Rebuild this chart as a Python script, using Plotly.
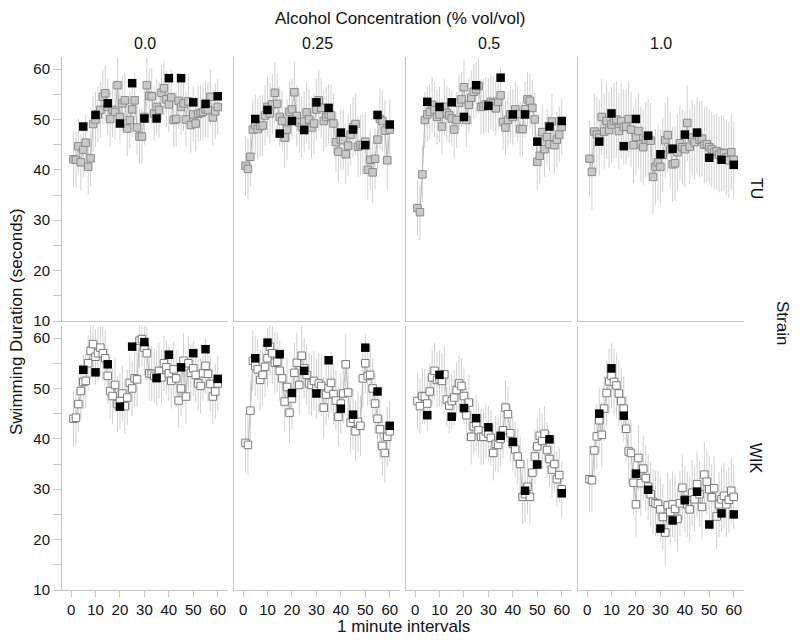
import plotly.graph_objects as go

# ---------------- data ----------------
minutes = list(range(1, 61))
block_minutes = [5, 10, 15, 20, 25, 30, 35, 40, 45, 50, 55, 60]
concentrations = ["0.0", "0.25", "0.5", "1.0"]
strains = ["TU", "WIK"]
x_ticks = [0, 10, 20, 30, 40, 50, 60]
y_ticks = [10, 15, 20, 25, 30, 35, 40, 45, 50, 55, 60]

TU_00 = [42.1, 42.0, 44.7, 41.5, 44.0, 45.4, 40.6, 42.3, 49.1, 50.0, 51.0, 51.9, 54.5, 55.2, 52.5,
         50.1, 51.9, 51.5, 56.8, 50.5, 53.2, 53.8, 48.2, 49.9, 52.0, 53.8, 48.4, 46.6, 46.6, 50.5,
         56.8, 54.7, 54.6, 51.2, 52.5, 51.9, 55.3, 56.2, 54.0, 53.0, 54.4, 49.9, 50.1, 53.7, 52.5,
         53.2, 50.0, 53.6, 48.9, 51.0, 49.2, 51.1, 51.3, 51.5, 52.0, 51.9, 54.5, 50.4, 51.6, 52.5]
TU_025 = [40.8, 40.2, 42.6, 48.0, 49.0, 48.1, 48.7, 48.8, 50.8, 52.5, 51.2, 53.0, 55.3, 53.1, 50.5,
          49.7, 46.4, 48.0, 51.5, 52.0, 55.4, 50.7, 49.4, 48.5, 49.6, 51.4, 50.0, 48.4, 49.2, 52.0,
          53.8, 52.3, 49.7, 50.5, 51.0, 50.8, 49.2, 45.5, 43.6, 46.0, 45.9, 43.1, 44.8, 47.0, 48.5,
          49.1, 44.6, 44.9, 45.0, 45.6, 40.0, 42.0, 39.5, 42.2, 46.0, 50.1, 49.7, 47.8, 41.9, 48.0]
TU_05 = [32.4, 31.6, 39.1, 49.9, 51.0, 51.5, 52.9, 51.9, 50.5, 51.0, 48.6, 52.5, 51.3, 50.8, 50.2,
         48.0, 49.9, 53.3, 54.0, 56.4, 49.9, 52.9, 54.3, 55.5, 56.0, 56.6, 52.5, 52.6, 53.0, 52.8,
         53.5, 53.2, 52.2, 53.5, 54.8, 49.5, 48.4, 49.9, 51.0, 50.5, 52.0, 51.1, 48.1, 48.1, 52.0,
         54.0, 53.7, 52.3, 50.0, 41.6, 42.8, 47.5, 44.1, 46.5, 45.1, 49.6, 44.9, 46.0, 47.0, 48.5]
TU_10 = [42.2, 39.6, 47.6, 47.0, 46.4, 50.5, 47.6, 49.7, 47.9, 49.0, 49.7, 50.0, 47.7, 49.7, 48.5,
         48.6, 50.1, 48.0, 44.9, 46.5, 47.7, 45.1, 44.5, 46.0, 46.5, 45.8, 38.6, 40.6, 41.5, 40.6,
         43.0, 45.9, 46.9, 44.0, 41.1, 41.3, 43.5, 45.3, 44.5, 44.1, 49.3, 44.6, 46.4, 45.5, 46.9,
         46.0, 46.2, 45.0, 45.1, 44.5, 44.1, 43.5, 43.7, 43.0, 43.4, 43.3, 42.5, 41.9, 43.5, 42.0]
WIK_00 = [44.0, 44.2, 46.9, 49.5, 51.3, 51.5, 55.0, 57.5, 58.8, 56.3, 57.0, 58.1, 57.0, 56.0, 52.5,
          49.5, 48.5, 50.7, 46.9, 47.5, 49.0, 46.5, 48.2, 51.1, 50.0, 52.0, 51.8, 59.5, 59.8, 58.1,
          57.0, 53.0, 52.9, 52.5, 52.0, 53.5, 52.2, 55.0, 54.2, 53.0, 51.5, 53.8, 52.0, 47.6, 50.0,
          55.5, 48.4, 55.0, 53.1, 54.0, 52.7, 51.0, 50.5, 53.0, 54.5, 52.9, 50.9, 48.4, 49.4, 51.0]
WIK_025 = [39.2, 38.8, 45.6, 55.5, 54.5, 53.8, 51.7, 52.7, 54.3, 56.0, 58.3, 57.0, 55.1, 55.3, 53.5,
           52.0, 47.4, 50.3, 45.2, 48.0, 53.1, 55.1, 50.7, 56.5, 54.0, 52.7, 51.0, 50.7, 51.5, 50.0,
           51.0, 50.5, 46.2, 48.8, 50.0, 51.1, 48.9, 47.6, 44.4, 47.0, 49.0, 54.8, 49.2, 43.2, 44.0,
           41.5, 43.4, 42.6, 52.0, 55.0, 52.5, 52.7, 50.0, 47.0, 44.0, 41.9, 38.6, 37.2, 40.4, 41.5]
WIK_05 = [47.5, 46.5, 48.5, 48.4, 47.0, 49.4, 52.2, 53.5, 51.7, 52.0, 51.5, 52.8, 47.8, 46.6, 47.5,
          48.2, 49.7, 51.0, 50.5, 48.5, 44.7, 47.2, 40.4, 42.5, 43.0, 41.7, 40.4, 40.4, 41.5, 41.0,
          40.2, 37.2, 39.0, 38.8, 40.0, 41.7, 46.2, 44.9, 41.1, 39.0, 37.9, 36.5, 35.0, 28.5, 29.0,
          30.5, 28.5, 33.3, 36.5, 38.5, 40.6, 39.6, 41.0, 37.8, 36.0, 33.9, 35.0, 32.0, 32.8, 30.0]
WIK_10 = [32.0, 31.8, 37.7, 40.5, 43.7, 40.8, 46.0, 49.1, 51.4, 52.5, 51.3, 50.6, 49.0, 47.5, 46.0,
          42.0, 37.5, 37.2, 31.3, 27.0, 36.2, 31.2, 34.1, 32.2, 30.5, 29.0, 27.5, 27.2, 27.1, 26.0,
          24.5, 21.4, 26.8, 25.5, 27.0, 26.1, 24.1, 27.2, 30.3, 28.0, 27.0, 26.0, 29.3, 28.0, 31.0,
          29.0, 26.5, 32.9, 31.5, 30.0, 28.4, 30.2, 24.6, 27.0, 28.0, 28.7, 27.0, 27.9, 29.7, 28.5]

TU_00_BLOCK = [48.6, 50.9, 53.2, 49.2, 57.2, 50.2, 50.2, 58.2, 58.2, 53.4, 53.1, 54.6]
TU_025_BLOCK = [50.1, 51.9, 47.2, 49.7, 47.9, 53.4, 52.3, 47.4, 48.0, 44.9, 50.9, 49.0]
TU_05_BLOCK = [53.5, 52.5, 53.4, 50.5, 56.8, 52.7, 58.3, 51.0, 51.0, 45.6, 48.6, 49.7]
TU_10_BLOCK = [45.6, 51.2, 44.7, 50.1, 46.8, 43.1, 44.2, 47.0, 47.4, 42.4, 42.0, 41.0]
WIK_00_BLOCK = [53.7, 53.2, 54.8, 46.4, 58.3, 59.2, 52.1, 56.7, 54.2, 57.0, 57.8, 51.9]
WIK_025_BLOCK = [56.0, 59.1, 56.8, 49.1, 53.5, 49.0, 55.6, 46.0, 44.8, 58.1, 49.4, 42.6]
WIK_05_BLOCK = [44.7, 52.7, 44.4, 46.1, 44.1, 42.3, 40.6, 39.4, 29.7, 34.9, 39.9, 29.2]
WIK_10_BLOCK = [45.0, 54.0, 44.6, 33.1, 29.9, 22.2, 23.8, 27.8, 29.5, 23.0, 25.2, 25.0]

# estimated standard error (seconds) per panel
TU_ERR = [5.5, 6.0, 5.5, 7.5]
WIK_ERR = [5.5, 6.0, 5.5, 6.5]

series = {
    ("TU", 0): (TU_00, TU_00_BLOCK), ("TU", 1): (TU_025, TU_025_BLOCK),
    ("TU", 2): (TU_05, TU_05_BLOCK), ("TU", 3): (TU_10, TU_10_BLOCK),
    ("WIK", 0): (WIK_00, WIK_00_BLOCK), ("WIK", 1): (WIK_025, WIK_025_BLOCK),
    ("WIK", 2): (WIK_05, WIK_05_BLOCK), ("WIK", 3): (WIK_10, WIK_10_BLOCK),
}
errors = {"TU": TU_ERR, "WIK": WIK_ERR}

# ---------------- layout geometry ----------------
# page has an 8px default body margin; the figure is sized to fit inside it
OFF = 8
W, H = 800 - 2 * OFF, 643 - 2 * OFF
col_left = [62, 234, 406, 578]          # page pixels
col_w = 166
row_px = {"TU": (57, 321), "WIK": (326, 590)}
FONT = "Liberation Sans, Arial, sans-serif"
AXC = "#c4c4c4"


def fx(px):
    return (px - OFF) / W


def fy(py):
    return 1 - (py - OFF) / H


fig = go.Figure()
layout = dict(width=W, height=H, autosize=False, margin=dict(l=0, r=0, t=0, b=0, pad=0),
              paper_bgcolor="white", plot_bgcolor="white", showlegend=False,
              font=dict(family=FONT, size=13, color="#111"))

idx = 0
for r, strain in enumerate(strains):
    top, bot = row_px[strain]
    for c in range(4):
        idx += 1
        xa = "xaxis" if idx == 1 else f"xaxis{idx}"
        ya = "yaxis" if idx == 1 else f"yaxis{idx}"
        xr = "x" if idx == 1 else f"x{idx}"
        yr = "y" if idx == 1 else f"y{idx}"
        x0 = col_left[c]
        layout[xa] = dict(domain=[fx(x0), fx(x0 + col_w)], range=[-3.7, 64.2],
                          anchor=yr, showgrid=False, zeroline=False, showline=True,
                          automargin=False,
                          linecolor=AXC, linewidth=1,
                          tickvals=x_ticks if strain == "WIK" else [],
                          ticks="outside" if strain == "WIK" else "",
                          ticklen=6, tickcolor=AXC,
                          showticklabels=(strain == "WIK"),
                          tickfont=dict(family=FONT, size=15, color="#111"))
        first = (c == 0)
        layout[ya] = dict(domain=[fy(bot), fy(top)], range=[10, 62.4],
                          anchor=xr, showgrid=False, zeroline=False, showline=True,
                          automargin=False,
                          linecolor=AXC, linewidth=1,
                          tickvals=y_ticks if first else [],
                          ticktext=[str(v) if v % 10 == 0 else "" for v in y_ticks],
                          ticks="outside" if first else "", ticklen=8, tickcolor=AXC,
                          showticklabels=first,
                          tickfont=dict(family=FONT, size=15, color="#111"))
        vals, blocks = series[(strain, c)]
        err = errors[strain][c]
        fill = "#c8c8c8" if strain == "TU" else "#ffffff"
        edge = "#8a8a8a" if strain == "TU" else "#7a7a7a"
        fig.add_trace(go.Scatter(
            x=minutes, y=vals, xaxis=xr, yaxis=yr, mode="lines+markers",
            line=dict(color="#b5b5b5", width=1),
            marker=dict(symbol="square", size=7.5, color=fill, line=dict(color=edge, width=1)),
            error_y=dict(type="constant", value=err, color="#d0d0d0", thickness=1, width=0),
            hoverinfo="x+y"))
        fig.add_trace(go.Scatter(
            x=block_minutes, y=blocks, xaxis=xr, yaxis=yr, mode="markers",
            marker=dict(symbol="square", size=8.5, color="#000000", line=dict(width=0)),
            hoverinfo="x+y"))

annotations = [
    dict(text="Alcohol Concentration (% vol/vol)", x=fx(400), y=fy(18), font=dict(size=17)),
    dict(text="1 minute intervals", x=fx(403), y=fy(626), font=dict(size=17)),
    dict(text="Swimming Duration (seconds)", x=fx(16), y=fy(322), textangle=-90, font=dict(size=17)),
    dict(text="Strain", x=fx(783), y=fy(323), textangle=90, font=dict(size=17)),
]
for c, lab in enumerate(concentrations):
    annotations.append(dict(text=lab, x=fx(col_left[c] + col_w / 2), y=fy(43), font=dict(size=16)))
for strain, yc in zip(strains, [188, 458]):
    annotations.append(dict(text=strain, x=fx(756), y=fy(yc), textangle=90, font=dict(size=16)))
for a in annotations:
    a.update(xref="paper", yref="paper", showarrow=False, xanchor="center", yanchor="middle")
    a["font"] = dict(family=FONT, color="#111", size=a["font"]["size"])
layout["annotations"] = annotations

fig.update_layout(**layout)
fig.write_html("out.html")
